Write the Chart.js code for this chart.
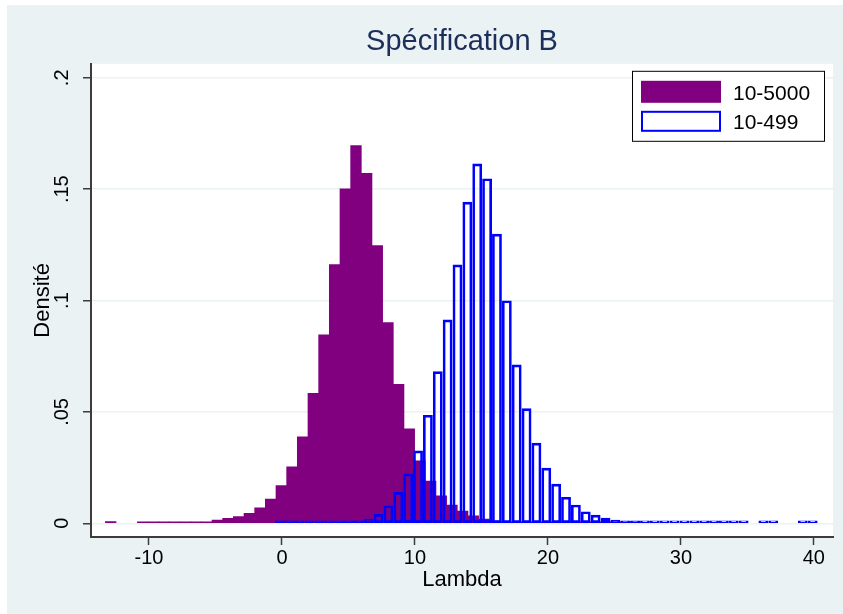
<!DOCTYPE html>
<html>
<head>
<meta charset="utf-8">
<title>Spécification B</title>
<script src="https://cdn.jsdelivr.net/npm/chart.js@4.4.1/dist/chart.umd.min.js"></script>
<style>
  html, body { margin: 0; padding: 0; background: #fff; }
  canvas { display: block; }
</style>
</head>
<body>
<canvas id="myChart" width="843" height="614"></canvas>
<script>
// histogram bins (lower edge of first bin, bin width)
var purpleStart = -13.28, purpleWidth = 0.802;
var blueStart = -0.526, blueWidth = 0.742;

// densities, one per bin (null = empty bin)
var density5000 = [
    0.0008, null, null, 0.0007, 0.0007, 0.0007, 0.0007, 0.0007, 0.0007, 0.0006,
    0.0015, 0.0022, 0.0030, 0.0045, 0.0070, 0.0109, 0.0169, 0.0254, 0.0388, 0.0584,
    0.0846, 0.1162, 0.1502, 0.1696, 0.1571, 0.1247, 0.0901, 0.0624, 0.0424, 0.0280,
    0.0190, 0.0123, 0.0082, 0.0055, 0.0034, 0.0019, 0.0010, 0.0006, 0.0004, 0.0003,
    0.0003, 0.0003, 0.0003, 0.0003, 0.0003, 0.0003, 0.0003, 0.0003, 0.0003, 0.0003
];
var density499 = [
    0.0003, 0.0003, 0.0003, 0.0003, 0.0003, 0.0003, 0.0003, 0.0003, 0.0005, 0.0019,
    0.0040, 0.0079, 0.0139, 0.0222, 0.0325, 0.0485, 0.0681, 0.0913, 0.1160, 0.1442,
    0.1614, 0.1547, 0.1298, 0.0999, 0.0711, 0.0515, 0.0360, 0.0248, 0.0176, 0.0117,
    0.0082, 0.0052, 0.0037, 0.0024, 0.0015, 0.0009, 0.0005, 0.0003, 0.0003, 0.0003,
    0.0003, 0.0003, 0.0003, 0.0003, 0.0003, 0.0003, 0.0003, 0.0003, null, 0.0002,
    0.0002, null, null, 0.0002, 0.0002
];

var seriesLabels = ['10-5000', '10-499'];
var xTicks = [-10, 0, 10, 20, 30, 40];
var yTicks = [0, 0.05, 0.1, 0.15, 0.2];
var yTickLabels = ['0', '.05', '.1', '.15', '.2'];

var xMin = -14.36, xMax = 41.44;
var yMin = -0.00615, yMax = 0.2063;

var bgColor = '#EAF2F3';
var axisColor = '#3c3c3c';
var fontFamily = '"Liberation Sans", Arial, Helvetica, sans-serif';

function toBins(values, start, width) {
    return values.map(function (v, i) {
        return {x: start + (i + 0.5) * width, y: v};
    });
}

var background = {
    id: 'background',
    beforeDraw: function (chart) {
        var ctx = chart.ctx, a = chart.chartArea;
        ctx.save();
        ctx.fillStyle = '#ffffff';
        ctx.fillRect(0, 0, chart.width, chart.height);
        ctx.fillStyle = bgColor;
        ctx.fillRect(7, 5, chart.width - 7, chart.height - 5);
        ctx.fillStyle = '#ffffff';
        ctx.fillRect(a.left, a.top, a.right - a.left, a.bottom - a.top);
        ctx.restore();
    }
};

// stata style legend box in the top right corner of the plot region
var legendBox = {
    id: 'legendBox',
    afterDatasetsDraw: function (chart) {
        var ctx = chart.ctx, a = chart.chartArea;
        var left = a.right - 201, top = a.top + 7;
        ctx.save();
        ctx.fillStyle = '#ffffff';
        ctx.fillRect(left, top, 192, 70);
        ctx.strokeStyle = '#000000';
        ctx.lineWidth = 1;
        ctx.strokeRect(left + 0.5, top + 0.5, 192, 70);
        ctx.fillStyle = '#800080';
        ctx.fillRect(left + 9, top + 10, 80, 22);
        ctx.strokeStyle = '#0000FF';
        ctx.lineWidth = 2;
        ctx.strokeRect(left + 10, top + 41, 78, 19);
        ctx.fillStyle = '#000000';
        ctx.font = '21px ' + fontFamily;
        ctx.textBaseline = 'alphabetic';
        ctx.textAlign = 'left';
        ctx.fillText(seriesLabels[0], left + 101, top + 29);
        ctx.fillText(seriesLabels[1], left + 101, top + 58);
        ctx.restore();
    }
};

var ctx = document.getElementById('myChart').getContext('2d');

var histChart = new Chart(ctx, {
    type: 'bar',
    data: {
        datasets: [{
            label: seriesLabels[0],
            data: toBins(density5000, purpleStart, purpleWidth),
            xAxisID: 'x',
            backgroundColor: '#800080',
            borderWidth: 0,
            grouped: false,
            barPercentage: 1,
            categoryPercentage: 1,
            minBarLength: 1.5,
            order: 2
        }, {
            label: seriesLabels[1],
            data: toBins(density499, blueStart, blueWidth),
            xAxisID: 'x2',
            backgroundColor: 'rgba(0,0,0,0)',
            borderColor: '#0000FF',
            borderWidth: 2,
            borderSkipped: false,
            grouped: false,
            barPercentage: 1,
            categoryPercentage: 1,
            minBarLength: 2.5,
            order: 1
        }]
    },
    options: {
        responsive: false,
        animation: false,
        devicePixelRatio: 1,
        layout: {
            padding: {left: 0, right: 10, top: 0, bottom: 0}
        },
        scales: {
            x: {
                type: 'linear',
                position: 'bottom',
                min: xMin,
                max: xMax,
                offset: false,
                afterBuildTicks: function (scale) {
                    scale.ticks = xTicks.map(function (v) { return {value: v}; });
                },
                afterFit: function (scale) { scale.height = 77; },
                ticks: {
                    color: '#000',
                    padding: 1,
                    maxRotation: 0,
                    font: {family: fontFamily, size: 20},
                    callback: function (v) { return String(v); }
                },
                grid: {
                    offset: false,
                    drawOnChartArea: false,
                    tickLength: 8,
                    tickColor: axisColor,
                    tickWidth: 1.5
                },
                border: {color: axisColor, width: 2},
                title: {
                    display: true,
                    text: 'Lambda',
                    color: '#000',
                    font: {family: fontFamily, size: 22},
                    padding: {top: 0, bottom: 21}
                }
            },
            x2: {
                type: 'linear',
                position: 'bottom',
                display: false,
                min: xMin,
                max: xMax,
                offset: false,
                grid: {offset: false}
            },
            y: {
                type: 'linear',
                min: yMin,
                max: yMax,
                afterBuildTicks: function (scale) {
                    scale.ticks = yTicks.map(function (v) { return {value: v}; });
                },
                afterFit: function (scale) { scale.width = 91; },
                ticks: {
                    color: '#000',
                    padding: 7,
                    minRotation: 90,
                    maxRotation: 90,
                    crossAlign: 'center',
                    font: {family: fontFamily, size: 20},
                    callback: function (v, i) { return yTickLabels[i]; }
                },
                grid: {
                    color: bgColor,
                    lineWidth: 1.5,
                    tickLength: 8,
                    tickColor: axisColor,
                    tickWidth: 1.5
                },
                border: {color: axisColor, width: 2},
                title: {
                    display: true,
                    text: 'Densité',
                    color: '#000',
                    font: {family: fontFamily, size: 22},
                    padding: {top: 30, bottom: 0}
                }
            }
        },
        plugins: {
            legend: {display: false},
            tooltip: {enabled: false},
            title: {
                display: true,
                text: 'Spécification B',
                fullSize: false,
                color: '#1C2E5A',
                font: {family: fontFamily, size: 29, weight: 'normal'},
                padding: {top: 25, bottom: 4}
            }
        }
    },
    plugins: [background, legendBox]
});

// make every bar exactly one bin wide, measured on the x scale
var sx = histChart.scales.x;
var pxPerUnit = Math.abs(sx.getPixelForValue(1) - sx.getPixelForValue(0));
histChart.data.datasets[0].barThickness = purpleWidth * pxPerUnit;
histChart.data.datasets[1].barThickness = blueWidth * pxPerUnit - 0.7; // small gap between outlined bars
histChart.update();
</script>
</body>
</html>
